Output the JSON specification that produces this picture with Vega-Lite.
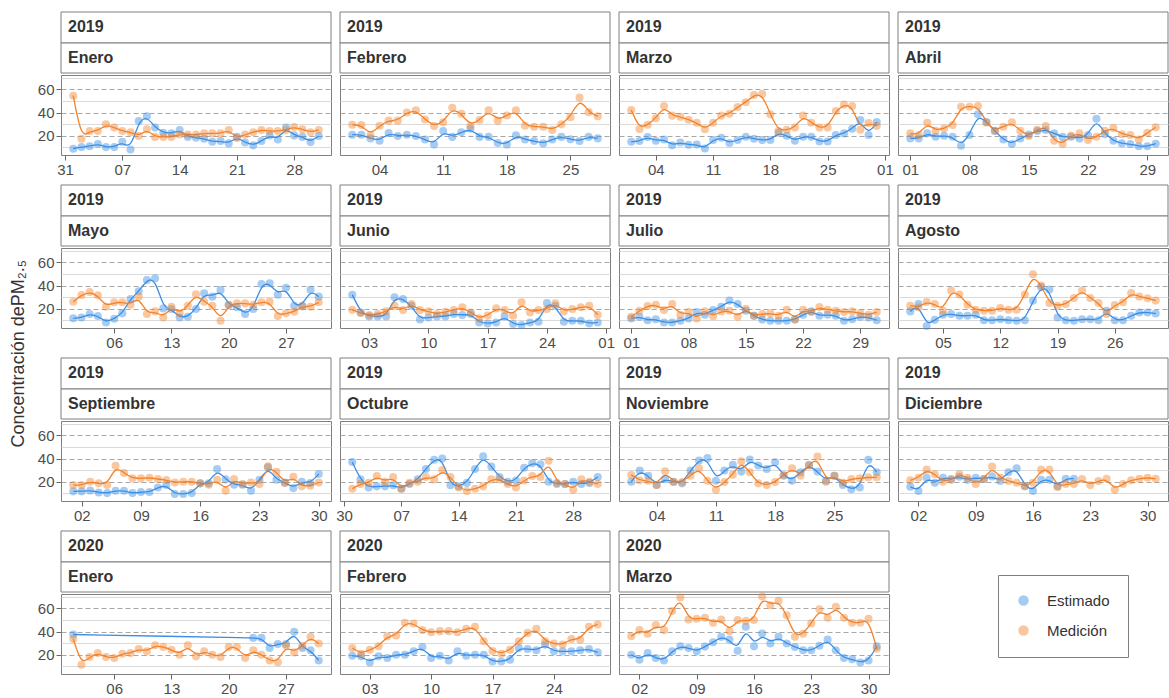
{
  "$schema": "https://vega.github.io/schema/vega-lite/v6.json",
  "padding": {"left": 9, "top": 10, "right": 0, "bottom": 0},
  "title": {"text": "Concentración dePM₂.₅", "orient": "left", "anchor": "middle", "fontSize": 18, "fontWeight": "normal", "color": "#333333", "offset": 9},
  "config": {
    "font": "Liberation Sans",
    "view": {"stroke": "#7f7f7f", "strokeWidth": 1},
    "legend": {"orient": "none"},
    "axisX": {"domain": false, "labelFlush": false, "labelOverlap": false, "tickSize": 5, "tickColor": "#666666", "labelColor": "#4d4d4d", "labelFontSize": 15, "labelPadding": 2},
    "axisY": {"domain": false, "labelOverlap": false, "tickSize": 5, "tickColor": "#666666", "labelColor": "#4d4d4d", "labelFontSize": 15, "labelPadding": 2, "gridWidth": 1}
  },
  "columns": 4,
  "spacing": {"row": 93, "column": 9},
  "bounds": "flush",
  "datasets": {
    "ene2019": [
      {"fecha": "2019-01-01", "Estimado": 8.8, "Medición": 54.5},
      {"fecha": "2019-01-02", "Estimado": 10.2, "Medición": 17.4},
      {"fecha": "2019-01-03", "Estimado": 11, "Medición": 24},
      {"fecha": "2019-01-04", "Estimado": 12.8, "Medición": 24},
      {"fecha": "2019-01-05", "Estimado": 10.2, "Medición": 29.8},
      {"fecha": "2019-01-06", "Estimado": 10.2, "Medición": 27},
      {"fecha": "2019-01-07", "Estimado": 14.8, "Medición": 24},
      {"fecha": "2019-01-08", "Estimado": 8.2, "Medición": 23},
      {"fecha": "2019-01-09", "Estimado": 32.7, "Medición": 19.7},
      {"fecha": "2019-01-10", "Estimado": 36.7, "Medición": 25.5},
      {"fecha": "2019-01-11", "Estimado": 27, "Medición": 19},
      {"fecha": "2019-01-12", "Estimado": 22.6, "Medición": 19},
      {"fecha": "2019-01-13", "Estimado": 22, "Medición": 19},
      {"fecha": "2019-01-14", "Estimado": 25, "Medición": 21},
      {"fecha": "2019-01-15", "Estimado": 19, "Medición": 21},
      {"fecha": "2019-01-16", "Estimado": 18.3, "Medición": 21},
      {"fecha": "2019-01-17", "Estimado": 17.4, "Medición": 22},
      {"fecha": "2019-01-18", "Estimado": 14.8, "Medición": 22},
      {"fecha": "2019-01-19", "Estimado": 15.4, "Medición": 22},
      {"fecha": "2019-01-20", "Estimado": 13.4, "Medición": 25},
      {"fecha": "2019-01-21", "Estimado": 19, "Medición": 18},
      {"fecha": "2019-01-22", "Estimado": 14.2, "Medición": 21},
      {"fecha": "2019-01-23", "Estimado": 11.7, "Medición": 23},
      {"fecha": "2019-01-24", "Estimado": 15.4, "Medición": 25},
      {"fecha": "2019-01-25", "Estimado": 20.3, "Medición": 24},
      {"fecha": "2019-01-26", "Estimado": 16.8, "Medición": 24},
      {"fecha": "2019-01-27", "Estimado": 27, "Medición": 25},
      {"fecha": "2019-01-28", "Estimado": 20.3, "Medición": 27.5},
      {"fecha": "2019-01-29", "Estimado": 19, "Medición": 25.5},
      {"fecha": "2019-01-30", "Estimado": 14.5, "Medición": 23},
      {"fecha": "2019-01-31", "Estimado": 19.7, "Medición": 25}
    ],
    "feb2019": [
      {"fecha": "2019-02-01", "Estimado": 20.9, "Medición": 29.5},
      {"fecha": "2019-02-02", "Estimado": 20.9, "Medición": 29.2},
      {"fecha": "2019-02-03", "Estimado": 17.7, "Medición": 20.6},
      {"fecha": "2019-02-04", "Estimado": 15.7, "Medición": 28.6},
      {"fecha": "2019-02-05", "Estimado": 22.3, "Medición": 33},
      {"fecha": "2019-02-06", "Estimado": 19.7, "Medición": 33},
      {"fecha": "2019-02-07", "Estimado": 20.9, "Medición": 40},
      {"fecha": "2019-02-08", "Estimado": 19.7, "Medición": 42},
      {"fecha": "2019-02-09", "Estimado": 16.8, "Medición": 34},
      {"fecha": "2019-02-10", "Estimado": 12.5, "Medición": 28.3},
      {"fecha": "2019-02-11", "Estimado": 24, "Medición": 31.5},
      {"fecha": "2019-02-12", "Estimado": 19, "Medición": 44},
      {"fecha": "2019-02-13", "Estimado": 22.9, "Medición": 39},
      {"fecha": "2019-02-14", "Estimado": 26, "Medición": 28.6},
      {"fecha": "2019-02-15", "Estimado": 19, "Medición": 33.5},
      {"fecha": "2019-02-16", "Estimado": 19, "Medición": 42},
      {"fecha": "2019-02-17", "Estimado": 13.7, "Medición": 33},
      {"fecha": "2019-02-18", "Estimado": 12.5, "Medición": 37.5},
      {"fecha": "2019-02-19", "Estimado": 20.3, "Medición": 42},
      {"fecha": "2019-02-20", "Estimado": 16.8, "Medición": 28.6},
      {"fecha": "2019-02-21", "Estimado": 15.4, "Medición": 27.8},
      {"fecha": "2019-02-22", "Estimado": 13.4, "Medición": 27.8},
      {"fecha": "2019-02-23", "Estimado": 16.8, "Medición": 25},
      {"fecha": "2019-02-24", "Estimado": 19, "Medición": 29.8},
      {"fecha": "2019-02-25", "Estimado": 17, "Medición": 36},
      {"fecha": "2019-02-26", "Estimado": 15.4, "Medición": 52.8},
      {"fecha": "2019-02-27", "Estimado": 19, "Medición": 40.3},
      {"fecha": "2019-02-28", "Estimado": 17.7, "Medición": 36.7}
    ],
    "mar2019": [
      {"fecha": "2019-03-01", "Estimado": 14.8, "Medición": 42.2},
      {"fecha": "2019-03-02", "Estimado": 15.4, "Medición": 25.8},
      {"fecha": "2019-03-03", "Estimado": 18.8, "Medición": 29.5},
      {"fecha": "2019-03-04", "Estimado": 15.7, "Medición": 35},
      {"fecha": "2019-03-05", "Estimado": 16.8, "Medición": 45.6},
      {"fecha": "2019-03-06", "Estimado": 11.7, "Medición": 37.3},
      {"fecha": "2019-03-07", "Estimado": 14.2, "Medición": 36.4},
      {"fecha": "2019-03-08", "Estimado": 12.2, "Medición": 33.8},
      {"fecha": "2019-03-09", "Estimado": 12.5, "Medición": 31.2},
      {"fecha": "2019-03-10", "Estimado": 9, "Medición": 25.5},
      {"fecha": "2019-03-11", "Estimado": 16.3, "Medición": 31.2},
      {"fecha": "2019-03-12", "Estimado": 18.3, "Medición": 37.3},
      {"fecha": "2019-03-13", "Estimado": 13.7, "Medición": 39},
      {"fecha": "2019-03-14", "Estimado": 16.3, "Medición": 44.7},
      {"fecha": "2019-03-15", "Estimado": 19.1, "Medición": 48.8},
      {"fecha": "2019-03-16", "Estimado": 17.4, "Medición": 55},
      {"fecha": "2019-03-17", "Estimado": 16.3, "Medición": 56},
      {"fecha": "2019-03-18", "Estimado": 16.3, "Medición": 38.4},
      {"fecha": "2019-03-19", "Estimado": 22.6, "Medición": 24},
      {"fecha": "2019-03-20", "Estimado": 20, "Medición": 25.2},
      {"fecha": "2019-03-21", "Estimado": 15.7, "Medición": 27},
      {"fecha": "2019-03-22", "Estimado": 19.1, "Medición": 37.3},
      {"fecha": "2019-03-23", "Estimado": 19.1, "Medición": 31.2},
      {"fecha": "2019-03-24", "Estimado": 15.1, "Medición": 27},
      {"fecha": "2019-03-25", "Estimado": 15.1, "Medición": 27},
      {"fecha": "2019-03-26", "Estimado": 20.6, "Medición": 41.3},
      {"fecha": "2019-03-27", "Estimado": 22, "Medición": 46.8},
      {"fecha": "2019-03-28", "Estimado": 26, "Medición": 45.6},
      {"fecha": "2019-03-29", "Estimado": 33.5, "Medición": 25.2},
      {"fecha": "2019-03-30", "Estimado": 20.6, "Medición": 31},
      {"fecha": "2019-03-31", "Estimado": 31.8, "Medición": 28.4}
    ],
    "abr2019": [
      {"fecha": "2019-04-01", "Estimado": 17.7, "Medición": 22},
      {"fecha": "2019-04-02", "Estimado": 17.7, "Medición": 20.6},
      {"fecha": "2019-04-03", "Estimado": 22, "Medición": 31.2},
      {"fecha": "2019-04-04", "Estimado": 19.1, "Medición": 24.3},
      {"fecha": "2019-04-05", "Estimado": 20, "Medición": 26.3},
      {"fecha": "2019-04-06", "Estimado": 19.1, "Medición": 29.2},
      {"fecha": "2019-04-07", "Estimado": 11.4, "Medición": 45},
      {"fecha": "2019-04-08", "Estimado": 20.6, "Medición": 45},
      {"fecha": "2019-04-09", "Estimado": 38.4, "Medición": 45.6},
      {"fecha": "2019-04-10", "Estimado": 31.8, "Medición": 31.2},
      {"fecha": "2019-04-11", "Estimado": 24, "Medición": 24.3},
      {"fecha": "2019-04-12", "Estimado": 16.8, "Medición": 27.8},
      {"fecha": "2019-04-13", "Estimado": 12.8, "Medición": 31.5},
      {"fecha": "2019-04-14", "Estimado": 17.7, "Medición": 24.3},
      {"fecha": "2019-04-15", "Estimado": 21, "Medición": 19.7},
      {"fecha": "2019-04-16", "Estimado": 24, "Medición": 25.2},
      {"fecha": "2019-04-17", "Estimado": 25, "Medición": 28.3},
      {"fecha": "2019-04-18", "Estimado": 22, "Medición": 15.7},
      {"fecha": "2019-04-19", "Estimado": 19, "Medición": 12.8},
      {"fecha": "2019-04-20", "Estimado": 19.1, "Medición": 20},
      {"fecha": "2019-04-21", "Estimado": 17.7, "Medición": 22},
      {"fecha": "2019-04-22", "Estimado": 20.6, "Medición": 16.3},
      {"fecha": "2019-04-23", "Estimado": 34.7, "Medición": 19.1},
      {"fecha": "2019-04-24", "Estimado": 21.4, "Medición": 24.3},
      {"fecha": "2019-04-25", "Estimado": 15.7, "Medición": 26.6},
      {"fecha": "2019-04-26", "Estimado": 13.4, "Medición": 21.2},
      {"fecha": "2019-04-27", "Estimado": 12.8, "Medición": 20.6},
      {"fecha": "2019-04-28", "Estimado": 11, "Medición": 16.8},
      {"fecha": "2019-04-29", "Estimado": 11, "Medición": 22.6},
      {"fecha": "2019-04-30", "Estimado": 13.1, "Medición": 27.2}
    ],
    "may2019": [
      {"fecha": "2019-05-01", "Estimado": 11.7, "Medición": 26},
      {"fecha": "2019-05-02", "Estimado": 12.5, "Medición": 31.8},
      {"fecha": "2019-05-03", "Estimado": 15.4, "Medición": 34.4},
      {"fecha": "2019-05-04", "Estimado": 13.7, "Medición": 31.5},
      {"fecha": "2019-05-05", "Estimado": 8.2, "Medición": 21.7},
      {"fecha": "2019-05-06", "Estimado": 11.4, "Medición": 25.5},
      {"fecha": "2019-05-07", "Estimado": 16, "Medición": 25.5},
      {"fecha": "2019-05-08", "Estimado": 28.3, "Medición": 23.5},
      {"fecha": "2019-05-09", "Estimado": 35, "Medición": 30.4},
      {"fecha": "2019-05-10", "Estimado": 44.7, "Medición": 15.4},
      {"fecha": "2019-05-11", "Estimado": 46.2, "Medición": 17.7},
      {"fecha": "2019-05-12", "Estimado": 20.3, "Medición": 12.5},
      {"fecha": "2019-05-13", "Estimado": 19.7, "Medición": 21.7},
      {"fecha": "2019-05-14", "Estimado": 12.5, "Medición": 16},
      {"fecha": "2019-05-15", "Estimado": 13.1, "Medición": 22.6},
      {"fecha": "2019-05-16", "Estimado": 19.7, "Medición": 32.4},
      {"fecha": "2019-05-17", "Estimado": 33.2, "Medición": 26},
      {"fecha": "2019-05-18", "Estimado": 30.4, "Medición": 22.6},
      {"fecha": "2019-05-19", "Estimado": 36.1, "Medición": 9.6},
      {"fecha": "2019-05-20", "Estimado": 23.2, "Medición": 23.2},
      {"fecha": "2019-05-21", "Estimado": 21.2, "Medición": 24.6},
      {"fecha": "2019-05-22", "Estimado": 15.4, "Medición": 24.6},
      {"fecha": "2019-05-23", "Estimado": 19.7, "Medición": 23.5},
      {"fecha": "2019-05-24", "Estimado": 41.3, "Medición": 25.5},
      {"fecha": "2019-05-25", "Estimado": 41.9, "Medición": 26},
      {"fecha": "2019-05-26", "Estimado": 32.1, "Medición": 13.7},
      {"fecha": "2019-05-27", "Estimado": 38.1, "Medición": 16},
      {"fecha": "2019-05-28", "Estimado": 22.6, "Medición": 17.4},
      {"fecha": "2019-05-29", "Estimado": 22.6, "Medición": 22},
      {"fecha": "2019-05-30", "Estimado": 36.4, "Medición": 21.7},
      {"fecha": "2019-05-31", "Estimado": 30.4, "Medición": 25.5}
    ],
    "jun2019": [
      {"fecha": "2019-06-01", "Estimado": 32.1, "Medición": 19.1},
      {"fecha": "2019-06-02", "Estimado": 16.8, "Medición": 16.3},
      {"fecha": "2019-06-03", "Estimado": 13.4, "Medición": 14.5},
      {"fecha": "2019-06-04", "Estimado": 13.4, "Medición": 15.4},
      {"fecha": "2019-06-05", "Estimado": 13.4, "Medición": 17.7},
      {"fecha": "2019-06-06", "Estimado": 29.8, "Medición": 22.6},
      {"fecha": "2019-06-07", "Estimado": 28.3, "Medición": 18.8},
      {"fecha": "2019-06-08", "Estimado": 22.6, "Medición": 24},
      {"fecha": "2019-06-09", "Estimado": 10.8, "Medición": 18.8},
      {"fecha": "2019-06-10", "Estimado": 12.5, "Medición": 17.7},
      {"fecha": "2019-06-11", "Estimado": 13.4, "Medición": 15.4},
      {"fecha": "2019-06-12", "Estimado": 13.4, "Medición": 17.4},
      {"fecha": "2019-06-13", "Estimado": 15.4, "Medición": 18.8},
      {"fecha": "2019-06-14", "Estimado": 14.5, "Medición": 21.2},
      {"fecha": "2019-06-15", "Estimado": 15.4, "Medición": 16.8},
      {"fecha": "2019-06-16", "Estimado": 8.2, "Medición": 11.7},
      {"fecha": "2019-06-17", "Estimado": 7.3, "Medición": 14.2},
      {"fecha": "2019-06-18", "Estimado": 8.2, "Medición": 20.3},
      {"fecha": "2019-06-19", "Estimado": 13.4, "Medición": 18.8},
      {"fecha": "2019-06-20", "Estimado": 6.8, "Medición": 14},
      {"fecha": "2019-06-21", "Estimado": 5.9, "Medición": 25.5},
      {"fecha": "2019-06-22", "Estimado": 8.2, "Medición": 16.8},
      {"fecha": "2019-06-23", "Estimado": 8.8, "Medición": 18.8},
      {"fecha": "2019-06-24", "Estimado": 24.9, "Medición": 19.7},
      {"fecha": "2019-06-25", "Estimado": 22.6, "Medición": 24.6},
      {"fecha": "2019-06-26", "Estimado": 8.8, "Medición": 17.7},
      {"fecha": "2019-06-27", "Estimado": 9.6, "Medición": 19.7},
      {"fecha": "2019-06-28", "Estimado": 9.6, "Medición": 21.2},
      {"fecha": "2019-06-29", "Estimado": 7.3, "Medición": 22.6},
      {"fecha": "2019-06-30", "Estimado": 8.2, "Medición": 14.8}
    ],
    "jul2019": [
      {"fecha": "2019-07-01", "Estimado": 11.6, "Medición": 13},
      {"fecha": "2019-07-02", "Estimado": 13, "Medición": 18.3},
      {"fecha": "2019-07-03", "Estimado": 10.1, "Medición": 22.3},
      {"fecha": "2019-07-04", "Estimado": 11, "Medición": 23.5},
      {"fecha": "2019-07-05", "Estimado": 8.1, "Medición": 18.8},
      {"fecha": "2019-07-06", "Estimado": 8.1, "Medición": 24},
      {"fecha": "2019-07-07", "Estimado": 9.6, "Medición": 14.8},
      {"fecha": "2019-07-08", "Estimado": 11.6, "Medición": 17.1},
      {"fecha": "2019-07-09", "Estimado": 17.1, "Medición": 11.6},
      {"fecha": "2019-07-10", "Estimado": 14.8, "Medición": 17.7},
      {"fecha": "2019-07-11", "Estimado": 18.8, "Medición": 13.6},
      {"fecha": "2019-07-12", "Estimado": 21.7, "Medición": 17.7},
      {"fecha": "2019-07-13", "Estimado": 27, "Medición": 18.3},
      {"fecha": "2019-07-14", "Estimado": 24, "Medición": 13},
      {"fecha": "2019-07-15", "Estimado": 18.3, "Medición": 20},
      {"fecha": "2019-07-16", "Estimado": 13.9, "Medición": 13.9},
      {"fecha": "2019-07-17", "Estimado": 10.7, "Medición": 15.4},
      {"fecha": "2019-07-18", "Estimado": 9.6, "Medición": 16},
      {"fecha": "2019-07-19", "Estimado": 9.6, "Medición": 13.9},
      {"fecha": "2019-07-20", "Estimado": 9.6, "Medición": 19.1},
      {"fecha": "2019-07-21", "Estimado": 10.7, "Medición": 10.7},
      {"fecha": "2019-07-22", "Estimado": 14.8, "Medición": 19.1},
      {"fecha": "2019-07-23", "Estimado": 17.7, "Medición": 17.1},
      {"fecha": "2019-07-24", "Estimado": 13.9, "Medición": 21.4},
      {"fecha": "2019-07-25", "Estimado": 14.8, "Medición": 19.1},
      {"fecha": "2019-07-26", "Estimado": 13.9, "Medición": 18.3},
      {"fecha": "2019-07-27", "Estimado": 9.6, "Medición": 17.1},
      {"fecha": "2019-07-28", "Estimado": 11, "Medición": 17.7},
      {"fecha": "2019-07-29", "Estimado": 13, "Medición": 16.2},
      {"fecha": "2019-07-30", "Estimado": 12.5, "Medición": 14.8},
      {"fecha": "2019-07-31", "Estimado": 10.1, "Medición": 17.1}
    ],
    "ago2019": [
      {"fecha": "2019-08-01", "Estimado": 17.7, "Medición": 22.6},
      {"fecha": "2019-08-02", "Estimado": 24, "Medición": 21.2},
      {"fecha": "2019-08-03", "Estimado": 5.2, "Medición": 25.8},
      {"fecha": "2019-08-04", "Estimado": 10.4, "Medición": 24},
      {"fecha": "2019-08-05", "Estimado": 14.8, "Medición": 18.3},
      {"fecha": "2019-08-06", "Estimado": 15.4, "Medición": 35.7},
      {"fecha": "2019-08-07", "Estimado": 13.9, "Medición": 32.2},
      {"fecha": "2019-08-08", "Estimado": 13.9, "Medición": 23.5},
      {"fecha": "2019-08-09", "Estimado": 14.8, "Medición": 19.1},
      {"fecha": "2019-08-10", "Estimado": 10.1, "Medición": 18.3},
      {"fecha": "2019-08-11", "Estimado": 10.1, "Medición": 18.3},
      {"fecha": "2019-08-12", "Estimado": 11, "Medición": 20.6},
      {"fecha": "2019-08-13", "Estimado": 10.1, "Medición": 19.1},
      {"fecha": "2019-08-14", "Estimado": 9.6, "Medición": 19.1},
      {"fecha": "2019-08-15", "Estimado": 10.1, "Medición": 32.2},
      {"fecha": "2019-08-16", "Estimado": 27, "Medición": 49.6},
      {"fecha": "2019-08-17", "Estimado": 38.6, "Medición": 40},
      {"fecha": "2019-08-18", "Estimado": 36.5, "Medición": 24.9},
      {"fecha": "2019-08-19", "Estimado": 12.5, "Medición": 22.6},
      {"fecha": "2019-08-20", "Estimado": 10.1, "Medición": 24},
      {"fecha": "2019-08-21", "Estimado": 9.6, "Medición": 29.3},
      {"fecha": "2019-08-22", "Estimado": 11, "Medición": 35.7},
      {"fecha": "2019-08-23", "Estimado": 11, "Medición": 29.3},
      {"fecha": "2019-08-24", "Estimado": 10.1, "Medición": 24.9},
      {"fecha": "2019-08-25", "Estimado": 18.3, "Medición": 15.4},
      {"fecha": "2019-08-26", "Estimado": 10.1, "Medición": 23.2},
      {"fecha": "2019-08-27", "Estimado": 10.1, "Medición": 25.5},
      {"fecha": "2019-08-28", "Estimado": 13.9, "Medición": 33.6},
      {"fecha": "2019-08-29", "Estimado": 16.8, "Medición": 30.4},
      {"fecha": "2019-08-30", "Estimado": 16.8, "Medición": 29},
      {"fecha": "2019-08-31", "Estimado": 15.9, "Medición": 27}
    ],
    "sep2019": [
      {"fecha": "2019-09-01", "Estimado": 11.7, "Medición": 17.1},
      {"fecha": "2019-09-02", "Estimado": 11.7, "Medición": 17.1},
      {"fecha": "2019-09-03", "Estimado": 12.5, "Medición": 20},
      {"fecha": "2019-09-04", "Estimado": 10.8, "Medición": 18.6},
      {"fecha": "2019-09-05", "Estimado": 10.2, "Medición": 17.1},
      {"fecha": "2019-09-06", "Estimado": 12.2, "Medición": 33.8},
      {"fecha": "2019-09-07", "Estimado": 12.2, "Medición": 27.5},
      {"fecha": "2019-09-08", "Estimado": 10.2, "Medición": 22.9},
      {"fecha": "2019-09-09", "Estimado": 11.1, "Medición": 22.9},
      {"fecha": "2019-09-10", "Estimado": 11.1, "Medición": 23.5},
      {"fecha": "2019-09-11", "Estimado": 15.1, "Medición": 22.3},
      {"fecha": "2019-09-12", "Estimado": 17.1, "Medición": 21.4},
      {"fecha": "2019-09-13", "Estimado": 9.4, "Medición": 19.4},
      {"fecha": "2019-09-14", "Estimado": 9.4, "Medición": 20},
      {"fecha": "2019-09-15", "Estimado": 10.2, "Medición": 20},
      {"fecha": "2019-09-16", "Estimado": 18.6, "Medición": 18.6},
      {"fecha": "2019-09-17", "Estimado": 18.6, "Medición": 17.4},
      {"fecha": "2019-09-18", "Estimado": 31, "Medición": 21.7},
      {"fecha": "2019-09-19", "Estimado": 22, "Medición": 12.2},
      {"fecha": "2019-09-20", "Estimado": 17.4, "Medición": 22.3},
      {"fecha": "2019-09-21", "Estimado": 17.4, "Medición": 18},
      {"fecha": "2019-09-22", "Estimado": 12.2, "Medición": 19.4},
      {"fecha": "2019-09-23", "Estimado": 21.7, "Medición": 18},
      {"fecha": "2019-09-24", "Estimado": 32.4, "Medición": 33.2},
      {"fecha": "2019-09-25", "Estimado": 21.7, "Medición": 28.6},
      {"fecha": "2019-09-26", "Estimado": 19.4, "Medición": 18.8},
      {"fecha": "2019-09-27", "Estimado": 14.5, "Medición": 24.3},
      {"fecha": "2019-09-28", "Estimado": 20, "Medición": 16},
      {"fecha": "2019-09-29", "Estimado": 18.8, "Medición": 16.5},
      {"fecha": "2019-09-30", "Estimado": 26.6, "Medición": 19.4}
    ],
    "oct2019": [
      {"fecha": "2019-10-01", "Estimado": 37, "Medición": 14},
      {"fecha": "2019-10-02", "Estimado": 22, "Medición": 18},
      {"fecha": "2019-10-03", "Estimado": 15, "Medición": 19},
      {"fecha": "2019-10-04", "Estimado": 16, "Medición": 25},
      {"fecha": "2019-10-05", "Estimado": 16, "Medición": 20},
      {"fecha": "2019-10-06", "Estimado": 17, "Medición": 24},
      {"fecha": "2019-10-07", "Estimado": 14, "Medición": 14},
      {"fecha": "2019-10-08", "Estimado": 18, "Medición": 19},
      {"fecha": "2019-10-09", "Estimado": 22, "Medición": 20},
      {"fecha": "2019-10-10", "Estimado": 31, "Medición": 24},
      {"fecha": "2019-10-11", "Estimado": 39, "Medición": 22},
      {"fecha": "2019-10-12", "Estimado": 40, "Medición": 30},
      {"fecha": "2019-10-13", "Estimado": 17, "Medición": 24},
      {"fecha": "2019-10-14", "Estimado": 16, "Medición": 15},
      {"fecha": "2019-10-15", "Estimado": 19, "Medición": 12},
      {"fecha": "2019-10-16", "Estimado": 31, "Medición": 14},
      {"fecha": "2019-10-17", "Estimado": 42, "Medición": 16},
      {"fecha": "2019-10-18", "Estimado": 33, "Medición": 22},
      {"fecha": "2019-10-19", "Estimado": 24, "Medición": 22},
      {"fecha": "2019-10-20", "Estimado": 20, "Medición": 18},
      {"fecha": "2019-10-21", "Estimado": 21, "Medición": 15},
      {"fecha": "2019-10-22", "Estimado": 32, "Medición": 21},
      {"fecha": "2019-10-23", "Estimado": 36, "Medición": 25},
      {"fecha": "2019-10-24", "Estimado": 35, "Medición": 24},
      {"fecha": "2019-10-25", "Estimado": 20, "Medición": 38},
      {"fecha": "2019-10-26", "Estimado": 18, "Medición": 19},
      {"fecha": "2019-10-27", "Estimado": 18, "Medición": 18},
      {"fecha": "2019-10-28", "Estimado": 20, "Medición": 13},
      {"fecha": "2019-10-29", "Estimado": 18, "Medición": 22},
      {"fecha": "2019-10-30", "Estimado": 19, "Medición": 20},
      {"fecha": "2019-10-31", "Estimado": 24, "Medición": 18}
    ],
    "nov2019": [
      {"fecha": "2019-11-01", "Estimado": 20, "Medición": 25.8},
      {"fecha": "2019-11-02", "Estimado": 29.6, "Medición": 21.2},
      {"fecha": "2019-11-03", "Estimado": 25.2, "Medición": 20.9},
      {"fecha": "2019-11-04", "Estimado": 17.1, "Medición": 17.1},
      {"fecha": "2019-11-05", "Estimado": 22.3, "Medición": 29},
      {"fecha": "2019-11-06", "Estimado": 20, "Medición": 19.7},
      {"fecha": "2019-11-07", "Estimado": 18.6, "Medición": 19.7},
      {"fecha": "2019-11-08", "Estimado": 29.6, "Medición": 25.2},
      {"fecha": "2019-11-09", "Estimado": 38.3, "Medición": 31.6},
      {"fecha": "2019-11-10", "Estimado": 40.3, "Medición": 20.9},
      {"fecha": "2019-11-11", "Estimado": 20.9, "Medición": 13},
      {"fecha": "2019-11-12", "Estimado": 29.6, "Medición": 19.7},
      {"fecha": "2019-11-13", "Estimado": 34.5, "Medición": 26.1},
      {"fecha": "2019-11-14", "Estimado": 28.7, "Medición": 37.7},
      {"fecha": "2019-11-15", "Estimado": 39.1, "Medición": 28.1},
      {"fecha": "2019-11-16", "Estimado": 33.9, "Medición": 18.6},
      {"fecha": "2019-11-17", "Estimado": 31, "Medición": 17.1},
      {"fecha": "2019-11-18", "Estimado": 36.8, "Medición": 19.7},
      {"fecha": "2019-11-19", "Estimado": 25.2, "Medición": 25.8},
      {"fecha": "2019-11-20", "Estimado": 20.9, "Medición": 31.6},
      {"fecha": "2019-11-21", "Estimado": 28.1, "Medición": 25.2},
      {"fecha": "2019-11-22", "Estimado": 34.5, "Medición": 33.9},
      {"fecha": "2019-11-23", "Estimado": 28.7, "Medición": 41.7},
      {"fecha": "2019-11-24", "Estimado": 20.9, "Medición": 20},
      {"fecha": "2019-11-25", "Estimado": 25.2, "Medición": 25.2},
      {"fecha": "2019-11-26", "Estimado": 17.1, "Medición": 19.4},
      {"fecha": "2019-11-27", "Estimado": 13.6, "Medición": 22.3},
      {"fecha": "2019-11-28", "Estimado": 15.1, "Medición": 22.9},
      {"fecha": "2019-11-29", "Estimado": 38.8, "Medición": 23.8},
      {"fecha": "2019-11-30", "Estimado": 28.1, "Medición": 23.8}
    ],
    "dic2019": [
      {"fecha": "2019-12-01", "Estimado": 15.7, "Medición": 21.2},
      {"fecha": "2019-12-02", "Estimado": 12, "Medición": 23.5},
      {"fecha": "2019-12-03", "Estimado": 23.5, "Medición": 30.4},
      {"fecha": "2019-12-04", "Estimado": 19.1, "Medición": 26.4},
      {"fecha": "2019-12-05", "Estimado": 23.5, "Medición": 20},
      {"fecha": "2019-12-06", "Estimado": 22.3, "Medición": 21.7},
      {"fecha": "2019-12-07", "Estimado": 24.3, "Medición": 26.4},
      {"fecha": "2019-12-08", "Estimado": 21.7, "Medición": 23.5},
      {"fecha": "2019-12-09", "Estimado": 23.5, "Medición": 18},
      {"fecha": "2019-12-10", "Estimado": 22.3, "Medición": 22.3},
      {"fecha": "2019-12-11", "Estimado": 24.6, "Medición": 33},
      {"fecha": "2019-12-12", "Estimado": 20.6, "Medición": 23.5},
      {"fecha": "2019-12-13", "Estimado": 28.1, "Medición": 20.6},
      {"fecha": "2019-12-14", "Estimado": 31.6, "Medición": 19.1},
      {"fecha": "2019-12-15", "Estimado": 16.2, "Medición": 16.2},
      {"fecha": "2019-12-16", "Estimado": 12, "Medición": 19.1},
      {"fecha": "2019-12-17", "Estimado": 21.7, "Medición": 30.4},
      {"fecha": "2019-12-18", "Estimado": 21.7, "Medición": 30.4},
      {"fecha": "2019-12-19", "Estimado": 16.2, "Medición": 15.4},
      {"fecha": "2019-12-20", "Estimado": 22.6, "Medición": 18},
      {"fecha": "2019-12-21", "Estimado": 22.6, "Medición": 18},
      {"fecha": "2019-12-22", "Estimado": null, "Medición": 22.3},
      {"fecha": "2019-12-23", "Estimado": null, "Medición": 17.1},
      {"fecha": "2019-12-24", "Estimado": null, "Medición": 20.6},
      {"fecha": "2019-12-25", "Estimado": null, "Medición": 22.6},
      {"fecha": "2019-12-26", "Estimado": null, "Medición": 13},
      {"fecha": "2019-12-27", "Estimado": null, "Medición": 18},
      {"fecha": "2019-12-28", "Estimado": null, "Medición": 21.2},
      {"fecha": "2019-12-29", "Estimado": null, "Medición": 22.6},
      {"fecha": "2019-12-30", "Estimado": null, "Medición": 23.5},
      {"fecha": "2019-12-31", "Estimado": null, "Medición": 22.6}
    ],
    "ene2020": [
      {"fecha": "2020-01-01", "Estimado": 37.4, "Medición": 33.6},
      {"fecha": "2020-01-02", "Estimado": null, "Medición": 11.3},
      {"fecha": "2020-01-03", "Estimado": null, "Medición": 18},
      {"fecha": "2020-01-04", "Estimado": null, "Medición": 21.4},
      {"fecha": "2020-01-05", "Estimado": null, "Medición": 18},
      {"fecha": "2020-01-06", "Estimado": null, "Medición": 17.1},
      {"fecha": "2020-01-07", "Estimado": null, "Medición": 20.9},
      {"fecha": "2020-01-08", "Estimado": null, "Medición": 21.4},
      {"fecha": "2020-01-09", "Estimado": null, "Medición": 24.9},
      {"fecha": "2020-01-10", "Estimado": null, "Medición": 22.9},
      {"fecha": "2020-01-11", "Estimado": null, "Medición": 28.1},
      {"fecha": "2020-01-12", "Estimado": null, "Medición": 26.7},
      {"fecha": "2020-01-13", "Estimado": null, "Medición": 24.3},
      {"fecha": "2020-01-14", "Estimado": null, "Medición": 20},
      {"fecha": "2020-01-15", "Estimado": null, "Medición": 28.1},
      {"fecha": "2020-01-16", "Estimado": null, "Medición": 18.6},
      {"fecha": "2020-01-17", "Estimado": null, "Medición": 22.9},
      {"fecha": "2020-01-18", "Estimado": null, "Medición": 20},
      {"fecha": "2020-01-19", "Estimado": null, "Medición": 18},
      {"fecha": "2020-01-20", "Estimado": null, "Medición": 26.7},
      {"fecha": "2020-01-21", "Estimado": null, "Medición": 26.7},
      {"fecha": "2020-01-22", "Estimado": null, "Medición": 17.1},
      {"fecha": "2020-01-23", "Estimado": 34.5, "Medición": 23.8},
      {"fecha": "2020-01-24", "Estimado": 34.5, "Medición": 20},
      {"fecha": "2020-01-25", "Estimado": 25.8, "Medición": 15.1},
      {"fecha": "2020-01-26", "Estimado": 29.3, "Medición": 13.6},
      {"fecha": "2020-01-27", "Estimado": 29.3, "Medición": 27.8},
      {"fecha": "2020-01-28", "Estimado": 39.7, "Medición": 22},
      {"fecha": "2020-01-29", "Estimado": 25.8, "Medición": 27.8},
      {"fecha": "2020-01-30", "Estimado": 23.8, "Medición": 35.4},
      {"fecha": "2020-01-31", "Estimado": 15.1, "Medición": 29.6}
    ],
    "feb2020": [
      {"fecha": "2020-02-01", "Estimado": 19.1, "Medición": 25.8},
      {"fecha": "2020-02-02", "Estimado": 18.6, "Medición": 20.9},
      {"fecha": "2020-02-03", "Estimado": 13.3, "Medición": 24.3},
      {"fecha": "2020-02-04", "Estimado": 18.6, "Medición": 27.2},
      {"fecha": "2020-02-05", "Estimado": 17.1, "Medición": 35.9},
      {"fecha": "2020-02-06", "Estimado": 20, "Medición": 36.5},
      {"fecha": "2020-02-07", "Estimado": 20, "Medición": 47.5},
      {"fecha": "2020-02-08", "Estimado": 22.9, "Medición": 46.9},
      {"fecha": "2020-02-09", "Estimado": 26.7, "Medición": 41.2},
      {"fecha": "2020-02-10", "Estimado": 17.1, "Medición": 39.4},
      {"fecha": "2020-02-11", "Estimado": 19.1, "Medición": 40.3},
      {"fecha": "2020-02-12", "Estimado": 15.1, "Medición": 40.3},
      {"fecha": "2020-02-13", "Estimado": 22.9, "Medición": 39.4},
      {"fecha": "2020-02-14", "Estimado": 19.1, "Medición": 42.3},
      {"fecha": "2020-02-15", "Estimado": 20, "Medición": 44.1},
      {"fecha": "2020-02-16", "Estimado": 20, "Medición": 31.6},
      {"fecha": "2020-02-17", "Estimado": 14.2, "Medición": 23.2},
      {"fecha": "2020-02-18", "Estimado": 14.2, "Medición": 20.9},
      {"fecha": "2020-02-19", "Estimado": 15.7, "Medición": 24.3},
      {"fecha": "2020-02-20", "Estimado": 25.8, "Medición": 31.6},
      {"fecha": "2020-02-21", "Estimado": 24.9, "Medición": 38.8},
      {"fecha": "2020-02-22", "Estimado": 23.8, "Medición": 42.3},
      {"fecha": "2020-02-23", "Estimado": 28.7, "Medición": 31.6},
      {"fecha": "2020-02-24", "Estimado": 22.9, "Medición": 29.6},
      {"fecha": "2020-02-25", "Estimado": 22.9, "Medición": 28.7},
      {"fecha": "2020-02-26", "Estimado": 22.9, "Medición": 33.6},
      {"fecha": "2020-02-27", "Estimado": 23.8, "Medición": 33},
      {"fecha": "2020-02-28", "Estimado": 24.9, "Medición": 44.1},
      {"fecha": "2020-02-29", "Estimado": 22, "Medición": 46.1}
    ],
    "mar2020": [
      {"fecha": "2020-03-01", "Estimado": 20, "Medición": 35.9},
      {"fecha": "2020-03-02", "Estimado": 15.7, "Medición": 41.2},
      {"fecha": "2020-03-03", "Estimado": 21.4, "Medición": 38},
      {"fecha": "2020-03-04", "Estimado": 17.1, "Medición": 45.5},
      {"fecha": "2020-03-05", "Estimado": 15.1, "Medición": 41.2},
      {"fecha": "2020-03-06", "Estimado": 22.9, "Medición": 57.7},
      {"fecha": "2020-03-07", "Estimado": 27.2, "Medición": 69.3},
      {"fecha": "2020-03-08", "Estimado": 25.8, "Medición": 50.4},
      {"fecha": "2020-03-09", "Estimado": 22.9, "Medición": 51},
      {"fecha": "2020-03-10", "Estimado": 27, "Medición": 51.9},
      {"fecha": "2020-03-11", "Estimado": 30.7, "Medición": 47.5},
      {"fecha": "2020-03-12", "Estimado": 35.4, "Medición": 50.4},
      {"fecha": "2020-03-13", "Estimado": 33, "Medición": 40.3},
      {"fecha": "2020-03-14", "Estimado": 23.5, "Medición": 49.9},
      {"fecha": "2020-03-15", "Estimado": 44.1, "Medición": 49},
      {"fecha": "2020-03-16", "Estimado": 27.2, "Medición": 49.9},
      {"fecha": "2020-03-17", "Estimado": 38.3, "Medición": 70.1},
      {"fecha": "2020-03-18", "Estimado": 29.6, "Medición": 62.6},
      {"fecha": "2020-03-19", "Estimado": 35.4, "Medición": 66.4},
      {"fecha": "2020-03-20", "Estimado": 29.6, "Medición": 53.9},
      {"fecha": "2020-03-21", "Estimado": 26.7, "Medición": 35.4},
      {"fecha": "2020-03-22", "Estimado": 23.8, "Medición": 38},
      {"fecha": "2020-03-23", "Estimado": 23.8, "Medición": 47},
      {"fecha": "2020-03-24", "Estimado": 27.8, "Medición": 59.1},
      {"fecha": "2020-03-25", "Estimado": 33, "Medición": 51.9},
      {"fecha": "2020-03-26", "Estimado": 23.8, "Medición": 61.4},
      {"fecha": "2020-03-27", "Estimado": 17.1, "Medición": 51.9},
      {"fecha": "2020-03-28", "Estimado": 16.2, "Medición": 47.5},
      {"fecha": "2020-03-29", "Estimado": 13.3, "Medición": 47.5},
      {"fecha": "2020-03-30", "Estimado": 15.1, "Medición": 51},
      {"fecha": "2020-03-31", "Estimado": 27.2, "Medición": 25.2}
    ]
  },
  "concat": [
    {"width": 270, "height": 80, "resolve": {"axis": {"x": "independent", "y": "independent"}}, "layer": [
      {"data": {"values": [{"anio": "2019", "mes": "Enero"}]}, "layer": [
        {"mark": {"type": "rect", "fill": "white", "stroke": "#7f7f7f"}, "encoding": {"x": {"datum": {"year": 2018, "month": 12, "date": 30, "hours": 12, "utc": true}, "type": "temporal", "axis": null}, "x2": {"datum": {"year": 2019, "month": 2, "date": 1, "hours": 12, "utc": true}}, "y": {"datum": 99.86, "type": "quantitative", "axis": null}, "y2": {"datum": 126.56}}},
        {"mark": {"type": "rect", "fill": "white", "stroke": "#7f7f7f"}, "encoding": {"x": {"datum": {"year": 2018, "month": 12, "date": 30, "hours": 12, "utc": true}, "type": "temporal", "axis": null}, "x2": {"datum": {"year": 2019, "month": 2, "date": 1, "hours": 12, "utc": true}}, "y": {"datum": 74.02, "type": "quantitative", "axis": null}, "y2": {"datum": 99.86}}},
        {"mark": {"type": "text", "align": "left", "baseline": "middle", "dx": 7, "fontSize": 16, "fontWeight": "bold", "color": "#333333"}, "encoding": {"x": {"datum": {"year": 2018, "month": 12, "date": 30, "hours": 12, "utc": true}, "type": "temporal", "axis": null}, "y": {"datum": 113.21, "type": "quantitative", "axis": null}, "text": {"field": "anio"}}},
        {"mark": {"type": "text", "align": "left", "baseline": "middle", "dx": 7, "fontSize": 16, "fontWeight": "bold", "color": "#333333"}, "encoding": {"x": {"datum": {"year": 2018, "month": 12, "date": 30, "hours": 12, "utc": true}, "type": "temporal", "axis": null}, "y": {"datum": 86.94, "type": "quantitative", "axis": null}, "text": {"field": "mes"}}}
      ]},
      {"data": {"name": "ene2019"}, "transform": [{"fold": ["Estimado", "Medición"], "as": ["serie", "valor"]}, {"filter": "isValid(datum.valor)"}],
       "encoding": {
        "x": {"field": "fecha", "type": "temporal", "scale": {"type": "utc", "domain": [{"year": 2018, "month": 12, "date": 30, "hours": 12, "utc": true}, {"year": 2019, "month": 2, "date": 1, "hours": 12, "utc": true}]}, "axis": {"orient": "bottom", "grid": false, "title": null, "format": "%d", "values": [{"year": 2018, "month": 12, "date": 31, "utc": true}, {"year": 2019, "month": 1, "date": 7, "utc": true}, {"year": 2019, "month": 1, "date": 14, "utc": true}, {"year": 2019, "month": 1, "date": 21, "utc": true}, {"year": 2019, "month": 1, "date": 28, "utc": true}]}},
        "y": {"field": "valor", "type": "quantitative", "scale": {"domain": [3.4, 72.3], "nice": false, "zero": false}, "axis": {"orient": "left", "grid": true, "title": null, "values": [10, 20, 30, 40, 50, 60, 70], "labelExpr": "datum.value % 20 === 0 ? datum.label : ''", "tickOpacity": {"condition": {"test": "datum.value % 20 === 0", "value": 1}, "value": 0}, "gridDash": {"condition": {"test": "datum.value % 20 === 0", "value": [5, 3]}, "value": []}, "gridColor": {"condition": {"test": "datum.value % 20 === 0", "value": "#a8a8a8"}, "value": "#dadada"}}}},
       "layer": [
        {"mark": {"type": "line", "interpolate": "basis", "strokeWidth": 1.3}, "encoding": {"color": {"field": "serie", "type": "nominal", "scale": {"domain": ["Estimado", "Medición"], "range": ["#3a8ee6", "#f5822a"]}, "legend": {"title": null, "orient": "none", "legendX": 937, "legendY": 500, "padding": 18, "rowPadding": 14, "labelFontSize": 15, "labelColor": "#333333", "labelOffset": 16, "strokeColor": "#7f7f7f", "fillColor": "white", "symbolType": "circle", "symbolSize": 80, "symbolOpacity": 0.55, "symbolStrokeWidth": 1.5}}}},
        {"mark": {"type": "point", "filled": true, "size": 65, "opacity": 0.45}, "encoding": {"color": {"field": "serie", "type": "nominal"}}}
       ]}
    ]},
    {"width": 270, "height": 80, "resolve": {"axis": {"x": "independent", "y": "independent"}}, "layer": [
      {"data": {"values": [{"anio": "2019", "mes": "Febrero"}]}, "layer": [
        {"mark": {"type": "rect", "fill": "white", "stroke": "#7f7f7f"}, "encoding": {"x": {"datum": {"year": 2019, "month": 1, "date": 30, "hours": 15, "minutes": 36, "utc": true}, "type": "temporal", "axis": null}, "x2": {"datum": {"year": 2019, "month": 3, "date": 1, "hours": 8, "minutes": 24, "utc": true}}, "y": {"datum": 99.86, "type": "quantitative", "axis": null}, "y2": {"datum": 126.56}}},
        {"mark": {"type": "rect", "fill": "white", "stroke": "#7f7f7f"}, "encoding": {"x": {"datum": {"year": 2019, "month": 1, "date": 30, "hours": 15, "minutes": 36, "utc": true}, "type": "temporal", "axis": null}, "x2": {"datum": {"year": 2019, "month": 3, "date": 1, "hours": 8, "minutes": 24, "utc": true}}, "y": {"datum": 74.02, "type": "quantitative", "axis": null}, "y2": {"datum": 99.86}}},
        {"mark": {"type": "text", "align": "left", "baseline": "middle", "dx": 7, "fontSize": 16, "fontWeight": "bold", "color": "#333333"}, "encoding": {"x": {"datum": {"year": 2019, "month": 1, "date": 30, "hours": 15, "minutes": 36, "utc": true}, "type": "temporal", "axis": null}, "y": {"datum": 113.21, "type": "quantitative", "axis": null}, "text": {"field": "anio"}}},
        {"mark": {"type": "text", "align": "left", "baseline": "middle", "dx": 7, "fontSize": 16, "fontWeight": "bold", "color": "#333333"}, "encoding": {"x": {"datum": {"year": 2019, "month": 1, "date": 30, "hours": 15, "minutes": 36, "utc": true}, "type": "temporal", "axis": null}, "y": {"datum": 86.94, "type": "quantitative", "axis": null}, "text": {"field": "mes"}}}
      ]},
      {"data": {"name": "feb2019"}, "transform": [{"fold": ["Estimado", "Medición"], "as": ["serie", "valor"]}, {"filter": "isValid(datum.valor)"}],
       "encoding": {
        "x": {"field": "fecha", "type": "temporal", "scale": {"type": "utc", "domain": [{"year": 2019, "month": 1, "date": 30, "hours": 15, "minutes": 36, "utc": true}, {"year": 2019, "month": 3, "date": 1, "hours": 8, "minutes": 24, "utc": true}]}, "axis": {"orient": "bottom", "grid": false, "title": null, "format": "%d", "values": [{"year": 2019, "month": 2, "date": 4, "utc": true}, {"year": 2019, "month": 2, "date": 11, "utc": true}, {"year": 2019, "month": 2, "date": 18, "utc": true}, {"year": 2019, "month": 2, "date": 25, "utc": true}]}},
        "y": {"field": "valor", "type": "quantitative", "scale": {"domain": [3.4, 72.3], "nice": false, "zero": false}, "axis": {"orient": "left", "grid": true, "title": null, "labels": false, "ticks": false, "values": [10, 20, 30, 40, 50, 60, 70], "gridDash": {"condition": {"test": "datum.value % 20 === 0", "value": [5, 3]}, "value": []}, "gridColor": {"condition": {"test": "datum.value % 20 === 0", "value": "#a8a8a8"}, "value": "#dadada"}}}},
       "layer": [
        {"mark": {"type": "line", "interpolate": "basis", "strokeWidth": 1.3}, "encoding": {"color": {"field": "serie", "type": "nominal"}}},
        {"mark": {"type": "point", "filled": true, "size": 65, "opacity": 0.45}, "encoding": {"color": {"field": "serie", "type": "nominal"}}}
       ]}
    ]},
    {"width": 270, "height": 80, "resolve": {"axis": {"x": "independent", "y": "independent"}}, "layer": [
      {"data": {"values": [{"anio": "2019", "mes": "Marzo"}]}, "layer": [
        {"mark": {"type": "rect", "fill": "white", "stroke": "#7f7f7f"}, "encoding": {"x": {"datum": {"year": 2019, "month": 2, "date": 27, "hours": 12, "utc": true}, "type": "temporal", "axis": null}, "x2": {"datum": {"year": 2019, "month": 4, "date": 1, "hours": 12, "utc": true}}, "y": {"datum": 99.86, "type": "quantitative", "axis": null}, "y2": {"datum": 126.56}}},
        {"mark": {"type": "rect", "fill": "white", "stroke": "#7f7f7f"}, "encoding": {"x": {"datum": {"year": 2019, "month": 2, "date": 27, "hours": 12, "utc": true}, "type": "temporal", "axis": null}, "x2": {"datum": {"year": 2019, "month": 4, "date": 1, "hours": 12, "utc": true}}, "y": {"datum": 74.02, "type": "quantitative", "axis": null}, "y2": {"datum": 99.86}}},
        {"mark": {"type": "text", "align": "left", "baseline": "middle", "dx": 7, "fontSize": 16, "fontWeight": "bold", "color": "#333333"}, "encoding": {"x": {"datum": {"year": 2019, "month": 2, "date": 27, "hours": 12, "utc": true}, "type": "temporal", "axis": null}, "y": {"datum": 113.21, "type": "quantitative", "axis": null}, "text": {"field": "anio"}}},
        {"mark": {"type": "text", "align": "left", "baseline": "middle", "dx": 7, "fontSize": 16, "fontWeight": "bold", "color": "#333333"}, "encoding": {"x": {"datum": {"year": 2019, "month": 2, "date": 27, "hours": 12, "utc": true}, "type": "temporal", "axis": null}, "y": {"datum": 86.94, "type": "quantitative", "axis": null}, "text": {"field": "mes"}}}
      ]},
      {"data": {"name": "mar2019"}, "transform": [{"fold": ["Estimado", "Medición"], "as": ["serie", "valor"]}, {"filter": "isValid(datum.valor)"}],
       "encoding": {
        "x": {"field": "fecha", "type": "temporal", "scale": {"type": "utc", "domain": [{"year": 2019, "month": 2, "date": 27, "hours": 12, "utc": true}, {"year": 2019, "month": 4, "date": 1, "hours": 12, "utc": true}]}, "axis": {"orient": "bottom", "grid": false, "title": null, "format": "%d", "values": [{"year": 2019, "month": 3, "date": 4, "utc": true}, {"year": 2019, "month": 3, "date": 11, "utc": true}, {"year": 2019, "month": 3, "date": 18, "utc": true}, {"year": 2019, "month": 3, "date": 25, "utc": true}, {"year": 2019, "month": 4, "date": 1, "utc": true}]}},
        "y": {"field": "valor", "type": "quantitative", "scale": {"domain": [3.4, 72.3], "nice": false, "zero": false}, "axis": {"orient": "left", "grid": true, "title": null, "labels": false, "ticks": false, "values": [10, 20, 30, 40, 50, 60, 70], "gridDash": {"condition": {"test": "datum.value % 20 === 0", "value": [5, 3]}, "value": []}, "gridColor": {"condition": {"test": "datum.value % 20 === 0", "value": "#a8a8a8"}, "value": "#dadada"}}}},
       "layer": [
        {"mark": {"type": "line", "interpolate": "basis", "strokeWidth": 1.3}, "encoding": {"color": {"field": "serie", "type": "nominal"}}},
        {"mark": {"type": "point", "filled": true, "size": 65, "opacity": 0.45}, "encoding": {"color": {"field": "serie", "type": "nominal"}}}
       ]}
    ]},
    {"width": 270, "height": 80, "resolve": {"axis": {"x": "independent", "y": "independent"}}, "layer": [
      {"data": {"values": [{"anio": "2019", "mes": "Abril"}]}, "layer": [
        {"mark": {"type": "rect", "fill": "white", "stroke": "#7f7f7f"}, "encoding": {"x": {"datum": {"year": 2019, "month": 3, "date": 30, "hours": 13, "minutes": 12, "utc": true}, "type": "temporal", "axis": null}, "x2": {"datum": {"year": 2019, "month": 5, "date": 1, "hours": 10, "minutes": 48, "utc": true}}, "y": {"datum": 99.86, "type": "quantitative", "axis": null}, "y2": {"datum": 126.56}}},
        {"mark": {"type": "rect", "fill": "white", "stroke": "#7f7f7f"}, "encoding": {"x": {"datum": {"year": 2019, "month": 3, "date": 30, "hours": 13, "minutes": 12, "utc": true}, "type": "temporal", "axis": null}, "x2": {"datum": {"year": 2019, "month": 5, "date": 1, "hours": 10, "minutes": 48, "utc": true}}, "y": {"datum": 74.02, "type": "quantitative", "axis": null}, "y2": {"datum": 99.86}}},
        {"mark": {"type": "text", "align": "left", "baseline": "middle", "dx": 7, "fontSize": 16, "fontWeight": "bold", "color": "#333333"}, "encoding": {"x": {"datum": {"year": 2019, "month": 3, "date": 30, "hours": 13, "minutes": 12, "utc": true}, "type": "temporal", "axis": null}, "y": {"datum": 113.21, "type": "quantitative", "axis": null}, "text": {"field": "anio"}}},
        {"mark": {"type": "text", "align": "left", "baseline": "middle", "dx": 7, "fontSize": 16, "fontWeight": "bold", "color": "#333333"}, "encoding": {"x": {"datum": {"year": 2019, "month": 3, "date": 30, "hours": 13, "minutes": 12, "utc": true}, "type": "temporal", "axis": null}, "y": {"datum": 86.94, "type": "quantitative", "axis": null}, "text": {"field": "mes"}}}
      ]},
      {"data": {"name": "abr2019"}, "transform": [{"fold": ["Estimado", "Medición"], "as": ["serie", "valor"]}, {"filter": "isValid(datum.valor)"}],
       "encoding": {
        "x": {"field": "fecha", "type": "temporal", "scale": {"type": "utc", "domain": [{"year": 2019, "month": 3, "date": 30, "hours": 13, "minutes": 12, "utc": true}, {"year": 2019, "month": 5, "date": 1, "hours": 10, "minutes": 48, "utc": true}]}, "axis": {"orient": "bottom", "grid": false, "title": null, "format": "%d", "values": [{"year": 2019, "month": 4, "date": 1, "utc": true}, {"year": 2019, "month": 4, "date": 8, "utc": true}, {"year": 2019, "month": 4, "date": 15, "utc": true}, {"year": 2019, "month": 4, "date": 22, "utc": true}, {"year": 2019, "month": 4, "date": 29, "utc": true}]}},
        "y": {"field": "valor", "type": "quantitative", "scale": {"domain": [3.4, 72.3], "nice": false, "zero": false}, "axis": {"orient": "left", "grid": true, "title": null, "labels": false, "ticks": false, "values": [10, 20, 30, 40, 50, 60, 70], "gridDash": {"condition": {"test": "datum.value % 20 === 0", "value": [5, 3]}, "value": []}, "gridColor": {"condition": {"test": "datum.value % 20 === 0", "value": "#a8a8a8"}, "value": "#dadada"}}}},
       "layer": [
        {"mark": {"type": "line", "interpolate": "basis", "strokeWidth": 1.3}, "encoding": {"color": {"field": "serie", "type": "nominal"}}},
        {"mark": {"type": "point", "filled": true, "size": 65, "opacity": 0.45}, "encoding": {"color": {"field": "serie", "type": "nominal"}}}
       ]}
    ]},
    {"width": 270, "height": 80, "resolve": {"axis": {"x": "independent", "y": "independent"}}, "layer": [
      {"data": {"values": [{"anio": "2019", "mes": "Mayo"}]}, "layer": [
        {"mark": {"type": "rect", "fill": "white", "stroke": "#7f7f7f"}, "encoding": {"x": {"datum": {"year": 2019, "month": 4, "date": 29, "hours": 12, "utc": true}, "type": "temporal", "axis": null}, "x2": {"datum": {"year": 2019, "month": 6, "date": 1, "hours": 12, "utc": true}}, "y": {"datum": 99.86, "type": "quantitative", "axis": null}, "y2": {"datum": 126.56}}},
        {"mark": {"type": "rect", "fill": "white", "stroke": "#7f7f7f"}, "encoding": {"x": {"datum": {"year": 2019, "month": 4, "date": 29, "hours": 12, "utc": true}, "type": "temporal", "axis": null}, "x2": {"datum": {"year": 2019, "month": 6, "date": 1, "hours": 12, "utc": true}}, "y": {"datum": 74.02, "type": "quantitative", "axis": null}, "y2": {"datum": 99.86}}},
        {"mark": {"type": "text", "align": "left", "baseline": "middle", "dx": 7, "fontSize": 16, "fontWeight": "bold", "color": "#333333"}, "encoding": {"x": {"datum": {"year": 2019, "month": 4, "date": 29, "hours": 12, "utc": true}, "type": "temporal", "axis": null}, "y": {"datum": 113.21, "type": "quantitative", "axis": null}, "text": {"field": "anio"}}},
        {"mark": {"type": "text", "align": "left", "baseline": "middle", "dx": 7, "fontSize": 16, "fontWeight": "bold", "color": "#333333"}, "encoding": {"x": {"datum": {"year": 2019, "month": 4, "date": 29, "hours": 12, "utc": true}, "type": "temporal", "axis": null}, "y": {"datum": 86.94, "type": "quantitative", "axis": null}, "text": {"field": "mes"}}}
      ]},
      {"data": {"name": "may2019"}, "transform": [{"fold": ["Estimado", "Medición"], "as": ["serie", "valor"]}, {"filter": "isValid(datum.valor)"}],
       "encoding": {
        "x": {"field": "fecha", "type": "temporal", "scale": {"type": "utc", "domain": [{"year": 2019, "month": 4, "date": 29, "hours": 12, "utc": true}, {"year": 2019, "month": 6, "date": 1, "hours": 12, "utc": true}]}, "axis": {"orient": "bottom", "grid": false, "title": null, "format": "%d", "values": [{"year": 2019, "month": 5, "date": 6, "utc": true}, {"year": 2019, "month": 5, "date": 13, "utc": true}, {"year": 2019, "month": 5, "date": 20, "utc": true}, {"year": 2019, "month": 5, "date": 27, "utc": true}]}},
        "y": {"field": "valor", "type": "quantitative", "scale": {"domain": [3.4, 72.3], "nice": false, "zero": false}, "axis": {"orient": "left", "grid": true, "title": null, "values": [10, 20, 30, 40, 50, 60, 70], "labelExpr": "datum.value % 20 === 0 ? datum.label : ''", "tickOpacity": {"condition": {"test": "datum.value % 20 === 0", "value": 1}, "value": 0}, "gridDash": {"condition": {"test": "datum.value % 20 === 0", "value": [5, 3]}, "value": []}, "gridColor": {"condition": {"test": "datum.value % 20 === 0", "value": "#a8a8a8"}, "value": "#dadada"}}}},
       "layer": [
        {"mark": {"type": "line", "interpolate": "basis", "strokeWidth": 1.3}, "encoding": {"color": {"field": "serie", "type": "nominal"}}},
        {"mark": {"type": "point", "filled": true, "size": 65, "opacity": 0.45}, "encoding": {"color": {"field": "serie", "type": "nominal"}}}
       ]}
    ]},
    {"width": 270, "height": 80, "resolve": {"axis": {"x": "independent", "y": "independent"}}, "layer": [
      {"data": {"values": [{"anio": "2019", "mes": "Junio"}]}, "layer": [
        {"mark": {"type": "rect", "fill": "white", "stroke": "#7f7f7f"}, "encoding": {"x": {"datum": {"year": 2019, "month": 5, "date": 30, "hours": 13, "minutes": 12, "utc": true}, "type": "temporal", "axis": null}, "x2": {"datum": {"year": 2019, "month": 7, "date": 1, "hours": 10, "minutes": 48, "utc": true}}, "y": {"datum": 99.86, "type": "quantitative", "axis": null}, "y2": {"datum": 126.56}}},
        {"mark": {"type": "rect", "fill": "white", "stroke": "#7f7f7f"}, "encoding": {"x": {"datum": {"year": 2019, "month": 5, "date": 30, "hours": 13, "minutes": 12, "utc": true}, "type": "temporal", "axis": null}, "x2": {"datum": {"year": 2019, "month": 7, "date": 1, "hours": 10, "minutes": 48, "utc": true}}, "y": {"datum": 74.02, "type": "quantitative", "axis": null}, "y2": {"datum": 99.86}}},
        {"mark": {"type": "text", "align": "left", "baseline": "middle", "dx": 7, "fontSize": 16, "fontWeight": "bold", "color": "#333333"}, "encoding": {"x": {"datum": {"year": 2019, "month": 5, "date": 30, "hours": 13, "minutes": 12, "utc": true}, "type": "temporal", "axis": null}, "y": {"datum": 113.21, "type": "quantitative", "axis": null}, "text": {"field": "anio"}}},
        {"mark": {"type": "text", "align": "left", "baseline": "middle", "dx": 7, "fontSize": 16, "fontWeight": "bold", "color": "#333333"}, "encoding": {"x": {"datum": {"year": 2019, "month": 5, "date": 30, "hours": 13, "minutes": 12, "utc": true}, "type": "temporal", "axis": null}, "y": {"datum": 86.94, "type": "quantitative", "axis": null}, "text": {"field": "mes"}}}
      ]},
      {"data": {"name": "jun2019"}, "transform": [{"fold": ["Estimado", "Medición"], "as": ["serie", "valor"]}, {"filter": "isValid(datum.valor)"}],
       "encoding": {
        "x": {"field": "fecha", "type": "temporal", "scale": {"type": "utc", "domain": [{"year": 2019, "month": 5, "date": 30, "hours": 13, "minutes": 12, "utc": true}, {"year": 2019, "month": 7, "date": 1, "hours": 10, "minutes": 48, "utc": true}]}, "axis": {"orient": "bottom", "grid": false, "title": null, "format": "%d", "values": [{"year": 2019, "month": 6, "date": 3, "utc": true}, {"year": 2019, "month": 6, "date": 10, "utc": true}, {"year": 2019, "month": 6, "date": 17, "utc": true}, {"year": 2019, "month": 6, "date": 24, "utc": true}, {"year": 2019, "month": 7, "date": 1, "utc": true}]}},
        "y": {"field": "valor", "type": "quantitative", "scale": {"domain": [3.4, 72.3], "nice": false, "zero": false}, "axis": {"orient": "left", "grid": true, "title": null, "labels": false, "ticks": false, "values": [10, 20, 30, 40, 50, 60, 70], "gridDash": {"condition": {"test": "datum.value % 20 === 0", "value": [5, 3]}, "value": []}, "gridColor": {"condition": {"test": "datum.value % 20 === 0", "value": "#a8a8a8"}, "value": "#dadada"}}}},
       "layer": [
        {"mark": {"type": "line", "interpolate": "basis", "strokeWidth": 1.3}, "encoding": {"color": {"field": "serie", "type": "nominal"}}},
        {"mark": {"type": "point", "filled": true, "size": 65, "opacity": 0.45}, "encoding": {"color": {"field": "serie", "type": "nominal"}}}
       ]}
    ]},
    {"width": 270, "height": 80, "resolve": {"axis": {"x": "independent", "y": "independent"}}, "layer": [
      {"data": {"values": [{"anio": "2019", "mes": "Julio"}]}, "layer": [
        {"mark": {"type": "rect", "fill": "white", "stroke": "#7f7f7f"}, "encoding": {"x": {"datum": {"year": 2019, "month": 6, "date": 29, "hours": 12, "utc": true}, "type": "temporal", "axis": null}, "x2": {"datum": {"year": 2019, "month": 8, "date": 1, "hours": 12, "utc": true}}, "y": {"datum": 99.86, "type": "quantitative", "axis": null}, "y2": {"datum": 126.56}}},
        {"mark": {"type": "rect", "fill": "white", "stroke": "#7f7f7f"}, "encoding": {"x": {"datum": {"year": 2019, "month": 6, "date": 29, "hours": 12, "utc": true}, "type": "temporal", "axis": null}, "x2": {"datum": {"year": 2019, "month": 8, "date": 1, "hours": 12, "utc": true}}, "y": {"datum": 74.02, "type": "quantitative", "axis": null}, "y2": {"datum": 99.86}}},
        {"mark": {"type": "text", "align": "left", "baseline": "middle", "dx": 7, "fontSize": 16, "fontWeight": "bold", "color": "#333333"}, "encoding": {"x": {"datum": {"year": 2019, "month": 6, "date": 29, "hours": 12, "utc": true}, "type": "temporal", "axis": null}, "y": {"datum": 113.21, "type": "quantitative", "axis": null}, "text": {"field": "anio"}}},
        {"mark": {"type": "text", "align": "left", "baseline": "middle", "dx": 7, "fontSize": 16, "fontWeight": "bold", "color": "#333333"}, "encoding": {"x": {"datum": {"year": 2019, "month": 6, "date": 29, "hours": 12, "utc": true}, "type": "temporal", "axis": null}, "y": {"datum": 86.94, "type": "quantitative", "axis": null}, "text": {"field": "mes"}}}
      ]},
      {"data": {"name": "jul2019"}, "transform": [{"fold": ["Estimado", "Medición"], "as": ["serie", "valor"]}, {"filter": "isValid(datum.valor)"}],
       "encoding": {
        "x": {"field": "fecha", "type": "temporal", "scale": {"type": "utc", "domain": [{"year": 2019, "month": 6, "date": 29, "hours": 12, "utc": true}, {"year": 2019, "month": 8, "date": 1, "hours": 12, "utc": true}]}, "axis": {"orient": "bottom", "grid": false, "title": null, "format": "%d", "values": [{"year": 2019, "month": 7, "date": 1, "utc": true}, {"year": 2019, "month": 7, "date": 8, "utc": true}, {"year": 2019, "month": 7, "date": 15, "utc": true}, {"year": 2019, "month": 7, "date": 22, "utc": true}, {"year": 2019, "month": 7, "date": 29, "utc": true}]}},
        "y": {"field": "valor", "type": "quantitative", "scale": {"domain": [3.4, 72.3], "nice": false, "zero": false}, "axis": {"orient": "left", "grid": true, "title": null, "labels": false, "ticks": false, "values": [10, 20, 30, 40, 50, 60, 70], "gridDash": {"condition": {"test": "datum.value % 20 === 0", "value": [5, 3]}, "value": []}, "gridColor": {"condition": {"test": "datum.value % 20 === 0", "value": "#a8a8a8"}, "value": "#dadada"}}}},
       "layer": [
        {"mark": {"type": "line", "interpolate": "basis", "strokeWidth": 1.3}, "encoding": {"color": {"field": "serie", "type": "nominal"}}},
        {"mark": {"type": "point", "filled": true, "size": 65, "opacity": 0.45}, "encoding": {"color": {"field": "serie", "type": "nominal"}}}
       ]}
    ]},
    {"width": 270, "height": 80, "resolve": {"axis": {"x": "independent", "y": "independent"}}, "layer": [
      {"data": {"values": [{"anio": "2019", "mes": "Agosto"}]}, "layer": [
        {"mark": {"type": "rect", "fill": "white", "stroke": "#7f7f7f"}, "encoding": {"x": {"datum": {"year": 2019, "month": 7, "date": 30, "hours": 12, "utc": true}, "type": "temporal", "axis": null}, "x2": {"datum": {"year": 2019, "month": 9, "date": 1, "hours": 12, "utc": true}}, "y": {"datum": 99.86, "type": "quantitative", "axis": null}, "y2": {"datum": 126.56}}},
        {"mark": {"type": "rect", "fill": "white", "stroke": "#7f7f7f"}, "encoding": {"x": {"datum": {"year": 2019, "month": 7, "date": 30, "hours": 12, "utc": true}, "type": "temporal", "axis": null}, "x2": {"datum": {"year": 2019, "month": 9, "date": 1, "hours": 12, "utc": true}}, "y": {"datum": 74.02, "type": "quantitative", "axis": null}, "y2": {"datum": 99.86}}},
        {"mark": {"type": "text", "align": "left", "baseline": "middle", "dx": 7, "fontSize": 16, "fontWeight": "bold", "color": "#333333"}, "encoding": {"x": {"datum": {"year": 2019, "month": 7, "date": 30, "hours": 12, "utc": true}, "type": "temporal", "axis": null}, "y": {"datum": 113.21, "type": "quantitative", "axis": null}, "text": {"field": "anio"}}},
        {"mark": {"type": "text", "align": "left", "baseline": "middle", "dx": 7, "fontSize": 16, "fontWeight": "bold", "color": "#333333"}, "encoding": {"x": {"datum": {"year": 2019, "month": 7, "date": 30, "hours": 12, "utc": true}, "type": "temporal", "axis": null}, "y": {"datum": 86.94, "type": "quantitative", "axis": null}, "text": {"field": "mes"}}}
      ]},
      {"data": {"name": "ago2019"}, "transform": [{"fold": ["Estimado", "Medición"], "as": ["serie", "valor"]}, {"filter": "isValid(datum.valor)"}],
       "encoding": {
        "x": {"field": "fecha", "type": "temporal", "scale": {"type": "utc", "domain": [{"year": 2019, "month": 7, "date": 30, "hours": 12, "utc": true}, {"year": 2019, "month": 9, "date": 1, "hours": 12, "utc": true}]}, "axis": {"orient": "bottom", "grid": false, "title": null, "format": "%d", "values": [{"year": 2019, "month": 8, "date": 5, "utc": true}, {"year": 2019, "month": 8, "date": 12, "utc": true}, {"year": 2019, "month": 8, "date": 19, "utc": true}, {"year": 2019, "month": 8, "date": 26, "utc": true}]}},
        "y": {"field": "valor", "type": "quantitative", "scale": {"domain": [3.4, 72.3], "nice": false, "zero": false}, "axis": {"orient": "left", "grid": true, "title": null, "labels": false, "ticks": false, "values": [10, 20, 30, 40, 50, 60, 70], "gridDash": {"condition": {"test": "datum.value % 20 === 0", "value": [5, 3]}, "value": []}, "gridColor": {"condition": {"test": "datum.value % 20 === 0", "value": "#a8a8a8"}, "value": "#dadada"}}}},
       "layer": [
        {"mark": {"type": "line", "interpolate": "basis", "strokeWidth": 1.3}, "encoding": {"color": {"field": "serie", "type": "nominal"}}},
        {"mark": {"type": "point", "filled": true, "size": 65, "opacity": 0.45}, "encoding": {"color": {"field": "serie", "type": "nominal"}}}
       ]}
    ]},
    {"width": 270, "height": 80, "resolve": {"axis": {"x": "independent", "y": "independent"}}, "layer": [
      {"data": {"values": [{"anio": "2019", "mes": "Septiembre"}]}, "layer": [
        {"mark": {"type": "rect", "fill": "white", "stroke": "#7f7f7f"}, "encoding": {"x": {"datum": {"year": 2019, "month": 8, "date": 30, "hours": 13, "minutes": 12, "utc": true}, "type": "temporal", "axis": null}, "x2": {"datum": {"year": 2019, "month": 10, "date": 1, "hours": 10, "minutes": 48, "utc": true}}, "y": {"datum": 99.86, "type": "quantitative", "axis": null}, "y2": {"datum": 126.56}}},
        {"mark": {"type": "rect", "fill": "white", "stroke": "#7f7f7f"}, "encoding": {"x": {"datum": {"year": 2019, "month": 8, "date": 30, "hours": 13, "minutes": 12, "utc": true}, "type": "temporal", "axis": null}, "x2": {"datum": {"year": 2019, "month": 10, "date": 1, "hours": 10, "minutes": 48, "utc": true}}, "y": {"datum": 74.02, "type": "quantitative", "axis": null}, "y2": {"datum": 99.86}}},
        {"mark": {"type": "text", "align": "left", "baseline": "middle", "dx": 7, "fontSize": 16, "fontWeight": "bold", "color": "#333333"}, "encoding": {"x": {"datum": {"year": 2019, "month": 8, "date": 30, "hours": 13, "minutes": 12, "utc": true}, "type": "temporal", "axis": null}, "y": {"datum": 113.21, "type": "quantitative", "axis": null}, "text": {"field": "anio"}}},
        {"mark": {"type": "text", "align": "left", "baseline": "middle", "dx": 7, "fontSize": 16, "fontWeight": "bold", "color": "#333333"}, "encoding": {"x": {"datum": {"year": 2019, "month": 8, "date": 30, "hours": 13, "minutes": 12, "utc": true}, "type": "temporal", "axis": null}, "y": {"datum": 86.94, "type": "quantitative", "axis": null}, "text": {"field": "mes"}}}
      ]},
      {"data": {"name": "sep2019"}, "transform": [{"fold": ["Estimado", "Medición"], "as": ["serie", "valor"]}, {"filter": "isValid(datum.valor)"}],
       "encoding": {
        "x": {"field": "fecha", "type": "temporal", "scale": {"type": "utc", "domain": [{"year": 2019, "month": 8, "date": 30, "hours": 13, "minutes": 12, "utc": true}, {"year": 2019, "month": 10, "date": 1, "hours": 10, "minutes": 48, "utc": true}]}, "axis": {"orient": "bottom", "grid": false, "title": null, "format": "%d", "values": [{"year": 2019, "month": 9, "date": 2, "utc": true}, {"year": 2019, "month": 9, "date": 9, "utc": true}, {"year": 2019, "month": 9, "date": 16, "utc": true}, {"year": 2019, "month": 9, "date": 23, "utc": true}, {"year": 2019, "month": 9, "date": 30, "utc": true}]}},
        "y": {"field": "valor", "type": "quantitative", "scale": {"domain": [3.4, 72.3], "nice": false, "zero": false}, "axis": {"orient": "left", "grid": true, "title": null, "values": [10, 20, 30, 40, 50, 60, 70], "labelExpr": "datum.value % 20 === 0 ? datum.label : ''", "tickOpacity": {"condition": {"test": "datum.value % 20 === 0", "value": 1}, "value": 0}, "gridDash": {"condition": {"test": "datum.value % 20 === 0", "value": [5, 3]}, "value": []}, "gridColor": {"condition": {"test": "datum.value % 20 === 0", "value": "#a8a8a8"}, "value": "#dadada"}}}},
       "layer": [
        {"mark": {"type": "line", "interpolate": "basis", "strokeWidth": 1.3}, "encoding": {"color": {"field": "serie", "type": "nominal"}}},
        {"mark": {"type": "point", "filled": true, "size": 65, "opacity": 0.45}, "encoding": {"color": {"field": "serie", "type": "nominal"}}}
       ]}
    ]},
    {"width": 270, "height": 80, "resolve": {"axis": {"x": "independent", "y": "independent"}}, "layer": [
      {"data": {"values": [{"anio": "2019", "mes": "Octubre"}]}, "layer": [
        {"mark": {"type": "rect", "fill": "white", "stroke": "#7f7f7f"}, "encoding": {"x": {"datum": {"year": 2019, "month": 9, "date": 29, "hours": 12, "utc": true}, "type": "temporal", "axis": null}, "x2": {"datum": {"year": 2019, "month": 11, "date": 1, "hours": 12, "utc": true}}, "y": {"datum": 99.86, "type": "quantitative", "axis": null}, "y2": {"datum": 126.56}}},
        {"mark": {"type": "rect", "fill": "white", "stroke": "#7f7f7f"}, "encoding": {"x": {"datum": {"year": 2019, "month": 9, "date": 29, "hours": 12, "utc": true}, "type": "temporal", "axis": null}, "x2": {"datum": {"year": 2019, "month": 11, "date": 1, "hours": 12, "utc": true}}, "y": {"datum": 74.02, "type": "quantitative", "axis": null}, "y2": {"datum": 99.86}}},
        {"mark": {"type": "text", "align": "left", "baseline": "middle", "dx": 7, "fontSize": 16, "fontWeight": "bold", "color": "#333333"}, "encoding": {"x": {"datum": {"year": 2019, "month": 9, "date": 29, "hours": 12, "utc": true}, "type": "temporal", "axis": null}, "y": {"datum": 113.21, "type": "quantitative", "axis": null}, "text": {"field": "anio"}}},
        {"mark": {"type": "text", "align": "left", "baseline": "middle", "dx": 7, "fontSize": 16, "fontWeight": "bold", "color": "#333333"}, "encoding": {"x": {"datum": {"year": 2019, "month": 9, "date": 29, "hours": 12, "utc": true}, "type": "temporal", "axis": null}, "y": {"datum": 86.94, "type": "quantitative", "axis": null}, "text": {"field": "mes"}}}
      ]},
      {"data": {"name": "oct2019"}, "transform": [{"fold": ["Estimado", "Medición"], "as": ["serie", "valor"]}, {"filter": "isValid(datum.valor)"}],
       "encoding": {
        "x": {"field": "fecha", "type": "temporal", "scale": {"type": "utc", "domain": [{"year": 2019, "month": 9, "date": 29, "hours": 12, "utc": true}, {"year": 2019, "month": 11, "date": 1, "hours": 12, "utc": true}]}, "axis": {"orient": "bottom", "grid": false, "title": null, "format": "%d", "values": [{"year": 2019, "month": 9, "date": 30, "utc": true}, {"year": 2019, "month": 10, "date": 7, "utc": true}, {"year": 2019, "month": 10, "date": 14, "utc": true}, {"year": 2019, "month": 10, "date": 21, "utc": true}, {"year": 2019, "month": 10, "date": 28, "utc": true}]}},
        "y": {"field": "valor", "type": "quantitative", "scale": {"domain": [3.4, 72.3], "nice": false, "zero": false}, "axis": {"orient": "left", "grid": true, "title": null, "labels": false, "ticks": false, "values": [10, 20, 30, 40, 50, 60, 70], "gridDash": {"condition": {"test": "datum.value % 20 === 0", "value": [5, 3]}, "value": []}, "gridColor": {"condition": {"test": "datum.value % 20 === 0", "value": "#a8a8a8"}, "value": "#dadada"}}}},
       "layer": [
        {"mark": {"type": "line", "interpolate": "basis", "strokeWidth": 1.3}, "encoding": {"color": {"field": "serie", "type": "nominal"}}},
        {"mark": {"type": "point", "filled": true, "size": 65, "opacity": 0.45}, "encoding": {"color": {"field": "serie", "type": "nominal"}}}
       ]}
    ]},
    {"width": 270, "height": 80, "resolve": {"axis": {"x": "independent", "y": "independent"}}, "layer": [
      {"data": {"values": [{"anio": "2019", "mes": "Noviembre"}]}, "layer": [
        {"mark": {"type": "rect", "fill": "white", "stroke": "#7f7f7f"}, "encoding": {"x": {"datum": {"year": 2019, "month": 10, "date": 30, "hours": 13, "minutes": 12, "utc": true}, "type": "temporal", "axis": null}, "x2": {"datum": {"year": 2019, "month": 12, "date": 1, "hours": 10, "minutes": 48, "utc": true}}, "y": {"datum": 99.86, "type": "quantitative", "axis": null}, "y2": {"datum": 126.56}}},
        {"mark": {"type": "rect", "fill": "white", "stroke": "#7f7f7f"}, "encoding": {"x": {"datum": {"year": 2019, "month": 10, "date": 30, "hours": 13, "minutes": 12, "utc": true}, "type": "temporal", "axis": null}, "x2": {"datum": {"year": 2019, "month": 12, "date": 1, "hours": 10, "minutes": 48, "utc": true}}, "y": {"datum": 74.02, "type": "quantitative", "axis": null}, "y2": {"datum": 99.86}}},
        {"mark": {"type": "text", "align": "left", "baseline": "middle", "dx": 7, "fontSize": 16, "fontWeight": "bold", "color": "#333333"}, "encoding": {"x": {"datum": {"year": 2019, "month": 10, "date": 30, "hours": 13, "minutes": 12, "utc": true}, "type": "temporal", "axis": null}, "y": {"datum": 113.21, "type": "quantitative", "axis": null}, "text": {"field": "anio"}}},
        {"mark": {"type": "text", "align": "left", "baseline": "middle", "dx": 7, "fontSize": 16, "fontWeight": "bold", "color": "#333333"}, "encoding": {"x": {"datum": {"year": 2019, "month": 10, "date": 30, "hours": 13, "minutes": 12, "utc": true}, "type": "temporal", "axis": null}, "y": {"datum": 86.94, "type": "quantitative", "axis": null}, "text": {"field": "mes"}}}
      ]},
      {"data": {"name": "nov2019"}, "transform": [{"fold": ["Estimado", "Medición"], "as": ["serie", "valor"]}, {"filter": "isValid(datum.valor)"}],
       "encoding": {
        "x": {"field": "fecha", "type": "temporal", "scale": {"type": "utc", "domain": [{"year": 2019, "month": 10, "date": 30, "hours": 13, "minutes": 12, "utc": true}, {"year": 2019, "month": 12, "date": 1, "hours": 10, "minutes": 48, "utc": true}]}, "axis": {"orient": "bottom", "grid": false, "title": null, "format": "%d", "values": [{"year": 2019, "month": 11, "date": 4, "utc": true}, {"year": 2019, "month": 11, "date": 11, "utc": true}, {"year": 2019, "month": 11, "date": 18, "utc": true}, {"year": 2019, "month": 11, "date": 25, "utc": true}]}},
        "y": {"field": "valor", "type": "quantitative", "scale": {"domain": [3.4, 72.3], "nice": false, "zero": false}, "axis": {"orient": "left", "grid": true, "title": null, "labels": false, "ticks": false, "values": [10, 20, 30, 40, 50, 60, 70], "gridDash": {"condition": {"test": "datum.value % 20 === 0", "value": [5, 3]}, "value": []}, "gridColor": {"condition": {"test": "datum.value % 20 === 0", "value": "#a8a8a8"}, "value": "#dadada"}}}},
       "layer": [
        {"mark": {"type": "line", "interpolate": "basis", "strokeWidth": 1.3}, "encoding": {"color": {"field": "serie", "type": "nominal"}}},
        {"mark": {"type": "point", "filled": true, "size": 65, "opacity": 0.45}, "encoding": {"color": {"field": "serie", "type": "nominal"}}}
       ]}
    ]},
    {"width": 270, "height": 80, "resolve": {"axis": {"x": "independent", "y": "independent"}}, "layer": [
      {"data": {"values": [{"anio": "2019", "mes": "Diciembre"}]}, "layer": [
        {"mark": {"type": "rect", "fill": "white", "stroke": "#7f7f7f"}, "encoding": {"x": {"datum": {"year": 2019, "month": 11, "date": 29, "hours": 12, "utc": true}, "type": "temporal", "axis": null}, "x2": {"datum": {"year": 2020, "month": 1, "date": 1, "hours": 12, "utc": true}}, "y": {"datum": 99.86, "type": "quantitative", "axis": null}, "y2": {"datum": 126.56}}},
        {"mark": {"type": "rect", "fill": "white", "stroke": "#7f7f7f"}, "encoding": {"x": {"datum": {"year": 2019, "month": 11, "date": 29, "hours": 12, "utc": true}, "type": "temporal", "axis": null}, "x2": {"datum": {"year": 2020, "month": 1, "date": 1, "hours": 12, "utc": true}}, "y": {"datum": 74.02, "type": "quantitative", "axis": null}, "y2": {"datum": 99.86}}},
        {"mark": {"type": "text", "align": "left", "baseline": "middle", "dx": 7, "fontSize": 16, "fontWeight": "bold", "color": "#333333"}, "encoding": {"x": {"datum": {"year": 2019, "month": 11, "date": 29, "hours": 12, "utc": true}, "type": "temporal", "axis": null}, "y": {"datum": 113.21, "type": "quantitative", "axis": null}, "text": {"field": "anio"}}},
        {"mark": {"type": "text", "align": "left", "baseline": "middle", "dx": 7, "fontSize": 16, "fontWeight": "bold", "color": "#333333"}, "encoding": {"x": {"datum": {"year": 2019, "month": 11, "date": 29, "hours": 12, "utc": true}, "type": "temporal", "axis": null}, "y": {"datum": 86.94, "type": "quantitative", "axis": null}, "text": {"field": "mes"}}}
      ]},
      {"data": {"name": "dic2019"}, "transform": [{"fold": ["Estimado", "Medición"], "as": ["serie", "valor"]}, {"filter": "isValid(datum.valor)"}],
       "encoding": {
        "x": {"field": "fecha", "type": "temporal", "scale": {"type": "utc", "domain": [{"year": 2019, "month": 11, "date": 29, "hours": 12, "utc": true}, {"year": 2020, "month": 1, "date": 1, "hours": 12, "utc": true}]}, "axis": {"orient": "bottom", "grid": false, "title": null, "format": "%d", "values": [{"year": 2019, "month": 12, "date": 2, "utc": true}, {"year": 2019, "month": 12, "date": 9, "utc": true}, {"year": 2019, "month": 12, "date": 16, "utc": true}, {"year": 2019, "month": 12, "date": 23, "utc": true}, {"year": 2019, "month": 12, "date": 30, "utc": true}]}},
        "y": {"field": "valor", "type": "quantitative", "scale": {"domain": [3.4, 72.3], "nice": false, "zero": false}, "axis": {"orient": "left", "grid": true, "title": null, "labels": false, "ticks": false, "values": [10, 20, 30, 40, 50, 60, 70], "gridDash": {"condition": {"test": "datum.value % 20 === 0", "value": [5, 3]}, "value": []}, "gridColor": {"condition": {"test": "datum.value % 20 === 0", "value": "#a8a8a8"}, "value": "#dadada"}}}},
       "layer": [
        {"mark": {"type": "line", "interpolate": "basis", "strokeWidth": 1.3}, "encoding": {"color": {"field": "serie", "type": "nominal"}}},
        {"mark": {"type": "point", "filled": true, "size": 65, "opacity": 0.45}, "encoding": {"color": {"field": "serie", "type": "nominal"}}}
       ]}
    ]},
    {"width": 270, "height": 80, "resolve": {"axis": {"x": "independent", "y": "independent"}}, "layer": [
      {"data": {"values": [{"anio": "2020", "mes": "Enero"}]}, "layer": [
        {"mark": {"type": "rect", "fill": "white", "stroke": "#7f7f7f"}, "encoding": {"x": {"datum": {"year": 2019, "month": 12, "date": 30, "hours": 12, "utc": true}, "type": "temporal", "axis": null}, "x2": {"datum": {"year": 2020, "month": 2, "date": 1, "hours": 12, "utc": true}}, "y": {"datum": 99.86, "type": "quantitative", "axis": null}, "y2": {"datum": 126.56}}},
        {"mark": {"type": "rect", "fill": "white", "stroke": "#7f7f7f"}, "encoding": {"x": {"datum": {"year": 2019, "month": 12, "date": 30, "hours": 12, "utc": true}, "type": "temporal", "axis": null}, "x2": {"datum": {"year": 2020, "month": 2, "date": 1, "hours": 12, "utc": true}}, "y": {"datum": 74.02, "type": "quantitative", "axis": null}, "y2": {"datum": 99.86}}},
        {"mark": {"type": "text", "align": "left", "baseline": "middle", "dx": 7, "fontSize": 16, "fontWeight": "bold", "color": "#333333"}, "encoding": {"x": {"datum": {"year": 2019, "month": 12, "date": 30, "hours": 12, "utc": true}, "type": "temporal", "axis": null}, "y": {"datum": 113.21, "type": "quantitative", "axis": null}, "text": {"field": "anio"}}},
        {"mark": {"type": "text", "align": "left", "baseline": "middle", "dx": 7, "fontSize": 16, "fontWeight": "bold", "color": "#333333"}, "encoding": {"x": {"datum": {"year": 2019, "month": 12, "date": 30, "hours": 12, "utc": true}, "type": "temporal", "axis": null}, "y": {"datum": 86.94, "type": "quantitative", "axis": null}, "text": {"field": "mes"}}}
      ]},
      {"data": {"name": "ene2020"}, "transform": [{"fold": ["Estimado", "Medición"], "as": ["serie", "valor"]}, {"filter": "isValid(datum.valor)"}],
       "encoding": {
        "x": {"field": "fecha", "type": "temporal", "scale": {"type": "utc", "domain": [{"year": 2019, "month": 12, "date": 30, "hours": 12, "utc": true}, {"year": 2020, "month": 2, "date": 1, "hours": 12, "utc": true}]}, "axis": {"orient": "bottom", "grid": false, "title": null, "format": "%d", "values": [{"year": 2020, "month": 1, "date": 6, "utc": true}, {"year": 2020, "month": 1, "date": 13, "utc": true}, {"year": 2020, "month": 1, "date": 20, "utc": true}, {"year": 2020, "month": 1, "date": 27, "utc": true}]}},
        "y": {"field": "valor", "type": "quantitative", "scale": {"domain": [3.4, 72.3], "nice": false, "zero": false}, "axis": {"orient": "left", "grid": true, "title": null, "values": [10, 20, 30, 40, 50, 60, 70], "labelExpr": "datum.value % 20 === 0 ? datum.label : ''", "tickOpacity": {"condition": {"test": "datum.value % 20 === 0", "value": 1}, "value": 0}, "gridDash": {"condition": {"test": "datum.value % 20 === 0", "value": [5, 3]}, "value": []}, "gridColor": {"condition": {"test": "datum.value % 20 === 0", "value": "#a8a8a8"}, "value": "#dadada"}}}},
       "layer": [
        {"mark": {"type": "line", "interpolate": "basis", "strokeWidth": 1.3}, "encoding": {"color": {"field": "serie", "type": "nominal"}}},
        {"mark": {"type": "point", "filled": true, "size": 65, "opacity": 0.45}, "encoding": {"color": {"field": "serie", "type": "nominal"}}}
       ]}
    ]},
    {"width": 270, "height": 80, "resolve": {"axis": {"x": "independent", "y": "independent"}}, "layer": [
      {"data": {"values": [{"anio": "2020", "mes": "Febrero"}]}, "layer": [
        {"mark": {"type": "rect", "fill": "white", "stroke": "#7f7f7f"}, "encoding": {"x": {"datum": {"year": 2020, "month": 1, "date": 30, "hours": 14, "minutes": 24, "utc": true}, "type": "temporal", "axis": null}, "x2": {"datum": {"year": 2020, "month": 3, "date": 1, "hours": 9, "minutes": 36, "utc": true}}, "y": {"datum": 99.86, "type": "quantitative", "axis": null}, "y2": {"datum": 126.56}}},
        {"mark": {"type": "rect", "fill": "white", "stroke": "#7f7f7f"}, "encoding": {"x": {"datum": {"year": 2020, "month": 1, "date": 30, "hours": 14, "minutes": 24, "utc": true}, "type": "temporal", "axis": null}, "x2": {"datum": {"year": 2020, "month": 3, "date": 1, "hours": 9, "minutes": 36, "utc": true}}, "y": {"datum": 74.02, "type": "quantitative", "axis": null}, "y2": {"datum": 99.86}}},
        {"mark": {"type": "text", "align": "left", "baseline": "middle", "dx": 7, "fontSize": 16, "fontWeight": "bold", "color": "#333333"}, "encoding": {"x": {"datum": {"year": 2020, "month": 1, "date": 30, "hours": 14, "minutes": 24, "utc": true}, "type": "temporal", "axis": null}, "y": {"datum": 113.21, "type": "quantitative", "axis": null}, "text": {"field": "anio"}}},
        {"mark": {"type": "text", "align": "left", "baseline": "middle", "dx": 7, "fontSize": 16, "fontWeight": "bold", "color": "#333333"}, "encoding": {"x": {"datum": {"year": 2020, "month": 1, "date": 30, "hours": 14, "minutes": 24, "utc": true}, "type": "temporal", "axis": null}, "y": {"datum": 86.94, "type": "quantitative", "axis": null}, "text": {"field": "mes"}}}
      ]},
      {"data": {"name": "feb2020"}, "transform": [{"fold": ["Estimado", "Medición"], "as": ["serie", "valor"]}, {"filter": "isValid(datum.valor)"}],
       "encoding": {
        "x": {"field": "fecha", "type": "temporal", "scale": {"type": "utc", "domain": [{"year": 2020, "month": 1, "date": 30, "hours": 14, "minutes": 24, "utc": true}, {"year": 2020, "month": 3, "date": 1, "hours": 9, "minutes": 36, "utc": true}]}, "axis": {"orient": "bottom", "grid": false, "title": null, "format": "%d", "values": [{"year": 2020, "month": 2, "date": 3, "utc": true}, {"year": 2020, "month": 2, "date": 10, "utc": true}, {"year": 2020, "month": 2, "date": 17, "utc": true}, {"year": 2020, "month": 2, "date": 24, "utc": true}]}},
        "y": {"field": "valor", "type": "quantitative", "scale": {"domain": [3.4, 72.3], "nice": false, "zero": false}, "axis": {"orient": "left", "grid": true, "title": null, "labels": false, "ticks": false, "values": [10, 20, 30, 40, 50, 60, 70], "gridDash": {"condition": {"test": "datum.value % 20 === 0", "value": [5, 3]}, "value": []}, "gridColor": {"condition": {"test": "datum.value % 20 === 0", "value": "#a8a8a8"}, "value": "#dadada"}}}},
       "layer": [
        {"mark": {"type": "line", "interpolate": "basis", "strokeWidth": 1.3}, "encoding": {"color": {"field": "serie", "type": "nominal"}}},
        {"mark": {"type": "point", "filled": true, "size": 65, "opacity": 0.45}, "encoding": {"color": {"field": "serie", "type": "nominal"}}}
       ]}
    ]},
    {"width": 270, "height": 80, "resolve": {"axis": {"x": "independent", "y": "independent"}}, "layer": [
      {"data": {"values": [{"anio": "2020", "mes": "Marzo"}]}, "layer": [
        {"mark": {"type": "rect", "fill": "white", "stroke": "#7f7f7f"}, "encoding": {"x": {"datum": {"year": 2020, "month": 2, "date": 28, "hours": 12, "utc": true}, "type": "temporal", "axis": null}, "x2": {"datum": {"year": 2020, "month": 4, "date": 1, "hours": 12, "utc": true}}, "y": {"datum": 99.86, "type": "quantitative", "axis": null}, "y2": {"datum": 126.56}}},
        {"mark": {"type": "rect", "fill": "white", "stroke": "#7f7f7f"}, "encoding": {"x": {"datum": {"year": 2020, "month": 2, "date": 28, "hours": 12, "utc": true}, "type": "temporal", "axis": null}, "x2": {"datum": {"year": 2020, "month": 4, "date": 1, "hours": 12, "utc": true}}, "y": {"datum": 74.02, "type": "quantitative", "axis": null}, "y2": {"datum": 99.86}}},
        {"mark": {"type": "text", "align": "left", "baseline": "middle", "dx": 7, "fontSize": 16, "fontWeight": "bold", "color": "#333333"}, "encoding": {"x": {"datum": {"year": 2020, "month": 2, "date": 28, "hours": 12, "utc": true}, "type": "temporal", "axis": null}, "y": {"datum": 113.21, "type": "quantitative", "axis": null}, "text": {"field": "anio"}}},
        {"mark": {"type": "text", "align": "left", "baseline": "middle", "dx": 7, "fontSize": 16, "fontWeight": "bold", "color": "#333333"}, "encoding": {"x": {"datum": {"year": 2020, "month": 2, "date": 28, "hours": 12, "utc": true}, "type": "temporal", "axis": null}, "y": {"datum": 86.94, "type": "quantitative", "axis": null}, "text": {"field": "mes"}}}
      ]},
      {"data": {"name": "mar2020"}, "transform": [{"fold": ["Estimado", "Medición"], "as": ["serie", "valor"]}, {"filter": "isValid(datum.valor)"}],
       "encoding": {
        "x": {"field": "fecha", "type": "temporal", "scale": {"type": "utc", "domain": [{"year": 2020, "month": 2, "date": 28, "hours": 12, "utc": true}, {"year": 2020, "month": 4, "date": 1, "hours": 12, "utc": true}]}, "axis": {"orient": "bottom", "grid": false, "title": null, "format": "%d", "values": [{"year": 2020, "month": 3, "date": 2, "utc": true}, {"year": 2020, "month": 3, "date": 9, "utc": true}, {"year": 2020, "month": 3, "date": 16, "utc": true}, {"year": 2020, "month": 3, "date": 23, "utc": true}, {"year": 2020, "month": 3, "date": 30, "utc": true}]}},
        "y": {"field": "valor", "type": "quantitative", "scale": {"domain": [3.4, 72.3], "nice": false, "zero": false}, "axis": {"orient": "left", "grid": true, "title": null, "labels": false, "ticks": false, "values": [10, 20, 30, 40, 50, 60, 70], "gridDash": {"condition": {"test": "datum.value % 20 === 0", "value": [5, 3]}, "value": []}, "gridColor": {"condition": {"test": "datum.value % 20 === 0", "value": "#a8a8a8"}, "value": "#dadada"}}}},
       "layer": [
        {"mark": {"type": "line", "interpolate": "basis", "strokeWidth": 1.3}, "encoding": {"color": {"field": "serie", "type": "nominal"}}},
        {"mark": {"type": "point", "filled": true, "size": 65, "opacity": 0.45}, "encoding": {"color": {"field": "serie", "type": "nominal"}}}
       ]}
    ]}
  ]
}
